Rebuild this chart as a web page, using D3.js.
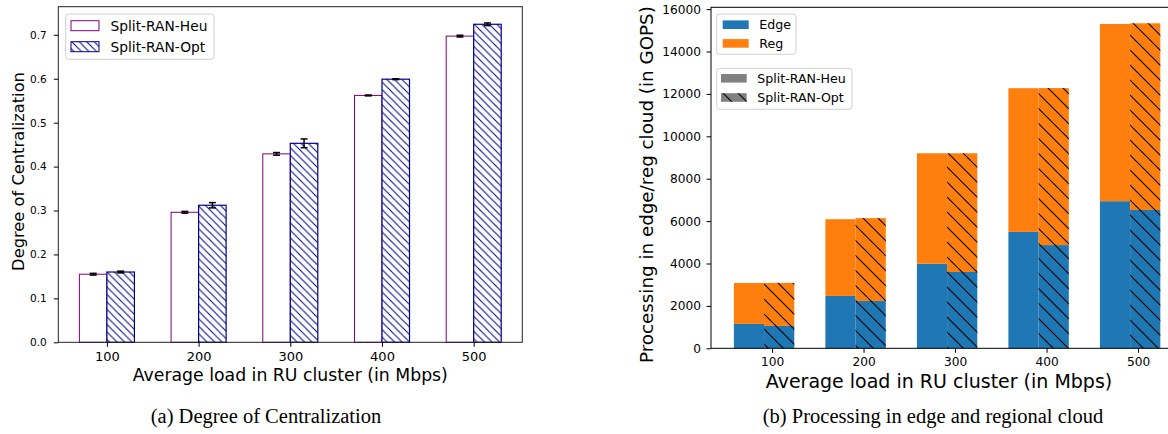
<!DOCTYPE html>
<html>
<head>
<meta charset="utf-8">
<script src="https://cdn.jsdelivr.net/npm/d3@7"></script>
<style>
  body { margin: 0; background: #fff; }
  svg { display: block; }
  text { font-family: "DejaVu Sans", sans-serif; fill: #000; }
  .caption { font-family: "Liberation Serif", "Times New Roman", serif; }
</style>
</head>
<body>
<svg id="chart" width="1168" height="434"></svg>
<script>
// ---------- data ----------
const categories = ["100", "200", "300", "400", "500"];
const seriesNames = ["Split-RAN-Heu", "Split-RAN-Opt"];

// (a) Degree of Centralization
const heuDoC    = [0.155, 0.296, 0.429, 0.562, 0.697];
const heuDoCErr = [0.002, 0.002, 0.003, 0.001, 0.002];
const optDoC    = [0.160, 0.312, 0.453, 0.599, 0.724];
const optDoCErr = [0.002, 0.006, 0.010, 0.001, 0.003];
const doCTicks  = [0.0, 0.1, 0.2, 0.3, 0.4, 0.5, 0.6, 0.7];

// (b) Processing in edge / regional cloud (GOPS)
const heuEdge = [1150, 2470, 3990, 5490, 6940];
const heuReg  = [1930, 3620, 5210, 6780, 8360];
const optEdge = [1055, 2230, 3600, 4870, 6525];
const optReg  = [2030, 3910, 5600, 7405, 8805];
const gopsTicks = [0, 2000, 4000, 6000, 8000, 10000, 12000, 14000, 16000];
const locNames = ["Edge", "Reg"];

// ---------- setup ----------
const svg = d3.select("#chart");
const defs = svg.append("defs");

// navy hatch with white background (left chart)
const p1 = defs.append("pattern").attr("id", "hatchNavy")
  .attr("patternUnits", "userSpaceOnUse").attr("width", 7.5).attr("height", 7.5);
p1.append("rect").attr("width", 7.5).attr("height", 7.5).attr("fill", "#fff");
p1.append("path").attr("d", "M0,0L7.5,7.5M-1.5,6L1.5,9M6,-1.5L9,1.5")
  .attr("stroke", "#00008b").attr("stroke-width", 1);

// black hatch overlay (right chart)
const p2 = defs.append("pattern").attr("id", "hatchBlack")
  .attr("patternUnits", "userSpaceOnUse").attr("width", 15).attr("height", 15);
p2.append("path").attr("d", "M0,0L15,15M-3,12L3,18M12,-3L18,3")
  .attr("stroke", "#000").attr("stroke-width", 1.1);

// ================= (a) =================
const A = { left: 58.3, right: 522.3, top: 6.7, bottom: 342.3 };
const xa = d3.scaleLinear().domain([-0.53, 4.53]).range([A.left, A.right]);
const ya = d3.scaleLinear().domain([0, 0.764]).range([A.bottom, A.top]);
const bwA = 0.3;
const ga = svg.append("g");

// bars
ga.selectAll("rect.heu").data(heuDoC).join("rect")
  .attr("x", (d, i) => xa(i - bwA)).attr("width", (d, i) => xa(i) - xa(i - bwA))
  .attr("y", d => ya(d)).attr("height", d => ya(0) - ya(d))
  .attr("fill", "#fff").attr("stroke", "#800080").attr("stroke-width", 1);
ga.selectAll("rect.opt").data(optDoC).join("rect")
  .attr("x", (d, i) => xa(i)).attr("width", (d, i) => xa(i + bwA) - xa(i))
  .attr("y", d => ya(d)).attr("height", d => ya(0) - ya(d))
  .attr("fill", "url(#hatchNavy)").attr("stroke", "#00008b").attr("stroke-width", 1.2);

// error bars
function errBars(vals, errs, off) {
  const g = ga.append("g").attr("stroke", "#000").attr("stroke-width", 1.5);
  vals.forEach((v, i) => {
    const cx = xa(i + off);
    g.append("line").attr("x1", cx).attr("x2", cx).attr("y1", ya(v - errs[i])).attr("y2", ya(v + errs[i]));
    g.append("line").attr("x1", cx - 3.5).attr("x2", cx + 3.5).attr("y1", ya(v - errs[i])).attr("y2", ya(v - errs[i]));
    g.append("line").attr("x1", cx - 3.5).attr("x2", cx + 3.5).attr("y1", ya(v + errs[i])).attr("y2", ya(v + errs[i]));
  });
}
errBars(heuDoC, heuDoCErr, -bwA / 2);
errBars(optDoC, optDoCErr, bwA / 2);

// frame
ga.append("rect").attr("x", A.left).attr("y", A.top)
  .attr("width", A.right - A.left).attr("height", A.bottom - A.top)
  .attr("fill", "none").attr("stroke", "#222").attr("stroke-width", 1);

// axes
const axA_y = ga.append("g").attr("transform", `translate(${A.left},0)`)
  .call(d3.axisLeft(ya).tickValues(doCTicks).tickFormat(d3.format(".1f")).tickSize(4.5).tickPadding(7));
axA_y.select(".domain").remove();
axA_y.selectAll("text").style("font-size", "10.5px").style("font-family", "DejaVu Sans");
const axA_x = ga.append("g").attr("transform", `translate(0,${A.bottom})`)
  .call(d3.axisBottom(xa).tickValues(d3.range(categories.length)).tickFormat(i => categories[i]).tickSize(4.5).tickPadding(5));
axA_x.select(".domain").remove();
axA_x.selectAll("text").style("font-size", "13px").style("font-family", "DejaVu Sans");

ga.append("text").attr("transform", `translate(24,${(A.top + A.bottom) / 2 - 3}) rotate(-90)`)
  .attr("text-anchor", "middle").style("font-size", "16.3px").text("Degree of Centralization");
ga.append("text").attr("x", (A.left + A.right) / 2).attr("y", 381)
  .attr("text-anchor", "middle").style("font-size", "17.3px").text("Average load in RU cluster (in Mbps)");
ga.append("text").attr("class", "caption").attr("x", 266).attr("y", 423)
  .attr("text-anchor", "middle").style("font-size", "20.5px").text("(a) Degree of Centralization");

// legend (a)
const la = ga.append("g");
la.append("rect").attr("x", 65.7).attr("y", 14).attr("width", 148.3).attr("height", 45.3)
  .attr("rx", 3).attr("fill", "#fff").attr("fill-opacity", 0.8).attr("stroke", "#d0d0d0");
seriesNames.forEach((name, k) => {
  const cy = 25.7 + k * 21;
  la.append("rect").attr("x", 71).attr("y", cy - 5).attr("width", 28).attr("height", 10)
    .attr("fill", k === 0 ? "#fff" : "url(#hatchNavy)")
    .attr("stroke", k === 0 ? "#800080" : "#00008b").attr("stroke-width", 1);
  la.append("text").attr("x", 110.5).attr("y", cy).attr("dy", "0.36em")
    .style("font-size", "13.8px").text(name);
});

// ================= (b) =================
const B = { left: 711, right: 1182, top: 7.3, bottom: 348.3 };
const xb = d3.scaleLinear().domain([-0.667, 4.48]).range([B.left, B.right]);
const yb = d3.scaleLinear().domain([0, 16086]).range([B.bottom, B.top]);
const bwB = 0.33;
const heuStart = -0.417, optStart = -0.087;
const colEdge = "#1f77b4", colReg = "#ff7f0e";
const gb = svg.append("g");

function stackBars(edge, reg, start, hatched) {
  const g = gb.append("g");
  edge.forEach((e, i) => {
    const x0 = xb(i + start), w = xb(i + start + bwB) - xb(i + start);
    const total = e + reg[i];
    g.append("rect").attr("x", x0).attr("width", w)
      .attr("y", yb(e)).attr("height", yb(0) - yb(e)).attr("fill", colEdge);
    g.append("rect").attr("x", x0).attr("width", w)
      .attr("y", yb(total)).attr("height", yb(e) - yb(total)).attr("fill", colReg);
    if (hatched) {
      g.append("rect").attr("x", x0).attr("width", w)
        .attr("y", yb(total)).attr("height", yb(0) - yb(total)).attr("fill", "url(#hatchBlack)");
    }
  });
}
stackBars(heuEdge, heuReg, heuStart, false);
stackBars(optEdge, optReg, optStart, true);

// spines (left, bottom, top; right is beyond the picture)
gb.append("rect").attr("x", B.left).attr("y", B.top)
  .attr("width", B.right - B.left).attr("height", B.bottom - B.top)
  .attr("fill", "none").attr("stroke", "#000").attr("stroke-width", 1);

const axB_y = gb.append("g").attr("transform", `translate(${B.left},0)`)
  .call(d3.axisLeft(yb).tickValues(gopsTicks).tickFormat(d3.format("d")).tickSize(4.5).tickPadding(5.5));
axB_y.select(".domain").remove();
axB_y.selectAll("text").style("font-size", "12.2px").style("font-family", "DejaVu Sans");
const axB_x = gb.append("g").attr("transform", `translate(0,${B.bottom})`)
  .call(d3.axisBottom(xb).tickValues(d3.range(categories.length)).tickFormat(i => categories[i]).tickSize(4.5).tickPadding(4.5));
axB_x.select(".domain").remove();
axB_x.selectAll("text").style("font-size", "12.2px").style("font-family", "DejaVu Sans");

gb.append("text").attr("transform", `translate(653,363) rotate(-90)`)
  .attr("text-anchor", "start").style("font-size", "18.3px").text("Processing in edge/reg cloud (in GOPS)");
gb.append("text").attr("x", 939).attr("y", 388)
  .attr("text-anchor", "middle").style("font-size", "19px").text("Average load in RU cluster (in Mbps)");
gb.append("text").attr("class", "caption").attr("x", 933).attr("y", 423)
  .attr("text-anchor", "middle").style("font-size", "20.5px").text("(b) Processing in edge and regional cloud");

// legend 1 (b)
const lb1 = gb.append("g");
lb1.append("rect").attr("x", 716.7).attr("y", 14).attr("width", 79.3).attr("height", 40.3)
  .attr("rx", 3).attr("fill", "#fff").attr("fill-opacity", 0.8).attr("stroke", "#d0d0d0");
locNames.forEach((name, k) => {
  const cy = 24.7 + k * 18.7;
  lb1.append("rect").attr("x", 722.7).attr("y", cy - 4.3).attr("width", 26).attr("height", 8.6)
    .attr("fill", k === 0 ? colEdge : colReg);
  lb1.append("text").attr("x", 759.3).attr("y", cy).attr("dy", "0.36em")
    .style("font-size", "12.6px").text(name);
});
// legend 2 (b)
const lb2 = gb.append("g");
lb2.append("rect").attr("x", 716.7).attr("y", 68.3).attr("width", 135.3).attr("height", 41)
  .attr("rx", 3).attr("fill", "#fff").attr("fill-opacity", 0.8).attr("stroke", "#d0d0d0");
seriesNames.forEach((name, k) => {
  const cy = 78.3 + k * 19.2;
  lb2.append("rect").attr("x", 721).attr("y", cy - 4.3).attr("width", 25.7).attr("height", 8.6)
    .attr("fill", "#808080");
  if (k === 1) {
    lb2.append("rect").attr("x", 721).attr("y", cy - 4.3).attr("width", 25.7).attr("height", 8.6)
      .attr("fill", "url(#hatchBlack)");
  }
  lb2.append("text").attr("x", 757.3).attr("y", cy).attr("dy", "0.36em")
    .style("font-size", "12.6px").text(name);
});
</script>
</body>
</html>
